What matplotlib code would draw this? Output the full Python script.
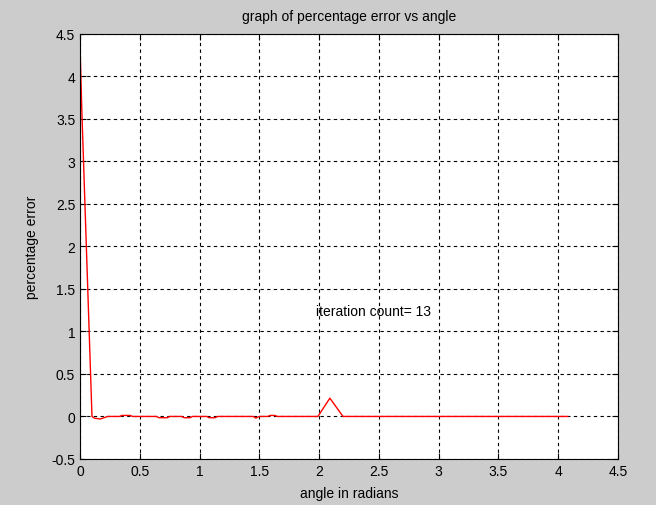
import matplotlib.pyplot as plt
import numpy as np

plt.rcParams['font.family'] = ['Liberation Sans', 'DejaVu Sans']

# Data
angle = [0.0, 0.015, 0.1, 0.12, 0.17, 0.23, 0.33, 0.35, 0.42, 0.44, 0.64, 0.66, 0.73, 0.75,
         0.85, 0.87, 0.92, 0.94, 1.06, 1.08, 1.13, 1.15, 1.45, 1.47, 1.5, 1.57, 1.59, 1.63, 1.65,
         1.99, 2.09, 2.2, 4.08]
error = [4.35, 3.6, 0.0, -0.02, -0.03, 0.0, 0.0, 0.012, 0.012, 0.0, 0.0, -0.015, -0.015, 0.0,
         0.0, -0.015, -0.015, 0.0, 0.0, -0.015, -0.015, 0.0, 0.0, -0.02, 0.0, 0.0, 0.012, 0.012, 0.0,
         0.0, 0.215, 0.0, 0.0]

fig = plt.figure(figsize=(6.56, 5.06), dpi=100, facecolor='#cccccc')
ax = fig.add_axes([0.122, 0.091, 0.820, 0.840])
ax.set_facecolor('white')

ax.plot(angle, error, color='red', linewidth=1)

ax.set_xlim(0, 4.5)
ax.set_ylim(-0.5, 4.5)
ax.set_xticks(np.arange(0, 4.51, 0.5))
ax.set_yticks(np.arange(-0.5, 4.51, 0.5))
ax.set_xticklabels(['0', '0.5', '1', '1.5', '2', '2.5', '3', '3.5', '4', '4.5'])
ax.set_yticklabels(['-0.5', '0', '0.5', '1', '1.5', '2', '2.5', '3', '3.5', '4', '4.5'])
ax.tick_params(direction='in', length=4, labelsize=10, top=True, right=True)
ax.grid(True, color='black', linestyle=(0, (3, 3)), linewidth=0.8)
for s in ax.spines.values():
    s.set_color('black')
    s.set_linewidth(0.8)

ax.set_title('graph of percentage error vs angle', fontsize=10, pad=10)
ax.set_xlabel('angle in radians', fontsize=10, labelpad=6)
ax.set_ylabel('percentage error', fontsize=10, labelpad=9)
ax.text(1.97, 1.24, 'iteration count= 13', fontsize=10, va='center')

plt.savefig('out.png', dpi=100, facecolor=fig.get_facecolor())
